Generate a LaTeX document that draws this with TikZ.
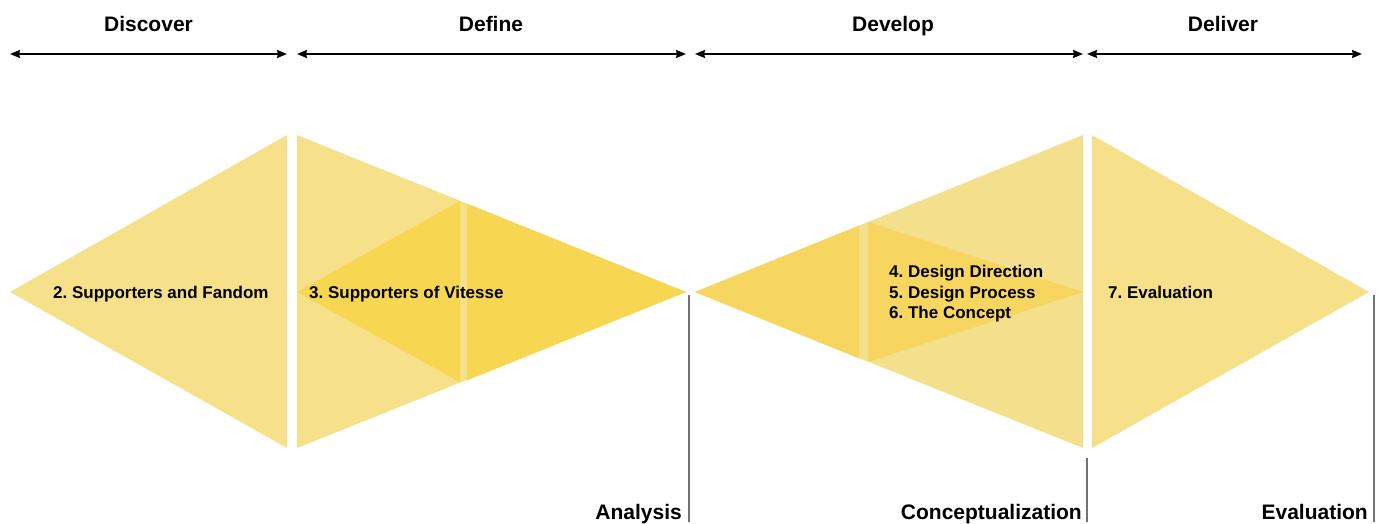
\documentclass[tikz,border=0pt]{standalone}
\usepackage{fontspec}
\setmainfont{Liberation Sans}
\usetikzlibrary{arrows.meta}

\definecolor{paleYellow}{HTML}{F6E08A}
\definecolor{paleYellowB}{HTML}{F4DF8C}
\definecolor{deepYellow}{HTML}{F7D752}
\definecolor{deepYellowB}{HTML}{F6D65E}

\frenchspacing

\begin{document}
\begin{tikzpicture}[%
    x=1pt,
    y=-1pt,
    phase/.style={%
        font=\bfseries\fontsize{21}{25}\selectfont,
        anchor=base,
        inner sep=0pt
    },
    topic/.style={%
        font=\bfseries\fontsize{17}{20.5}\selectfont,
        align=left,
        inner sep=0pt
    },
    milestone/.style={%
        font=\bfseries\fontsize{21}{25}\selectfont,
        anchor=base east,
        inner sep=0pt
    },
    span/.style={%
        <->,
        line width=1.8pt
    },
    marker/.style={%
        draw=black!55,
        line width=1.3pt
    },
    >={Stealth[length=10pt,width=8pt,inset=1pt]}
]
\useasboundingbox (0,0) rectangle (1386,524);

% Discover
    \fill[paleYellow] (10,292) -- (287,135) -- (287,448) -- cycle;

% Define
    \fill[paleYellow] (297,135) -- (686,292) -- (297,448) -- cycle;
    \fill[deepYellow] (297,292) -- (460,201) -- (460,382) -- cycle;
    \fill[deepYellow] (467,203.6) -- (686,292) -- (467,380.4) -- cycle;

% Develop
    \fill[paleYellowB] (695,292) -- (1083,135) -- (1083,448) -- cycle;
    \fill[deepYellowB] (695,292) -- (859,225.6) -- (859,358.4) -- cycle;
    \fill[deepYellowB] (868,222) -- (1083,292) -- (868,362) -- cycle;

% Deliver
    \fill[paleYellow] (1092,135) -- (1369,292) -- (1092,448) -- cycle;

% Phase headers
    \node[phase] (discover) at (148.5,32) {Discover};
    \node[phase] (define) at (491,32) {Define};
    \node[phase] (develop) at (893,32) {Develop};
    \node[phase] (deliver) at (1223,32) {Deliver};

% Phase spans
    \coordinate (discoverL) at (10,54);
    \coordinate (discoverR) at (287,54);
    \coordinate (defineL) at (297,54);
    \coordinate (defineR) at (686,54);
    \coordinate (developL) at (695,54);
    \coordinate (developR) at (1083,54);
    \coordinate (deliverL) at (1087,54);
    \coordinate (deliverR) at (1362,54);

% Topics
    \node[topic, anchor=base west] (topic2) at (53,298) {2. Supporters and Fandom};
    \node[topic, anchor=base west] (topic3) at (309,298) {3. Supporters of Vitesse};
    \node[topic, anchor=west] (topic456) at (889,294) {4. Design Direction\\5. Design Process\\6. The Concept};
    \node[topic, anchor=base west] (topic7) at (1108,298) {7. Evaluation};

% Milestones
    \coordinate (analysisTop) at (689,295);
    \coordinate (analysisEnd) at (689,522);
    \coordinate (conceptTop) at (1087,458);
    \coordinate (conceptEnd) at (1087,522);
    \coordinate (evaluationTop) at (1374,295);
    \coordinate (evaluationEnd) at (1374,522);
    \node[milestone] (analysis) at (682,519) {Analysis};
    \node[milestone] (concept) at (1082,519) {Conceptualization};
    \node[milestone] (evaluation) at (1368,519) {Evaluation};

% Arrows
\draw[span] (discoverL) -- (discoverR);
\draw[span] (defineL) -- (defineR);
\draw[span] (developL) -- (developR);
\draw[span] (deliverL) -- (deliverR);

\draw[marker] (analysisTop) -- (analysisEnd);
\draw[marker] (conceptTop) -- (conceptEnd);
\draw[marker] (evaluationTop) -- (evaluationEnd);

\end{tikzpicture}
\end{document}
